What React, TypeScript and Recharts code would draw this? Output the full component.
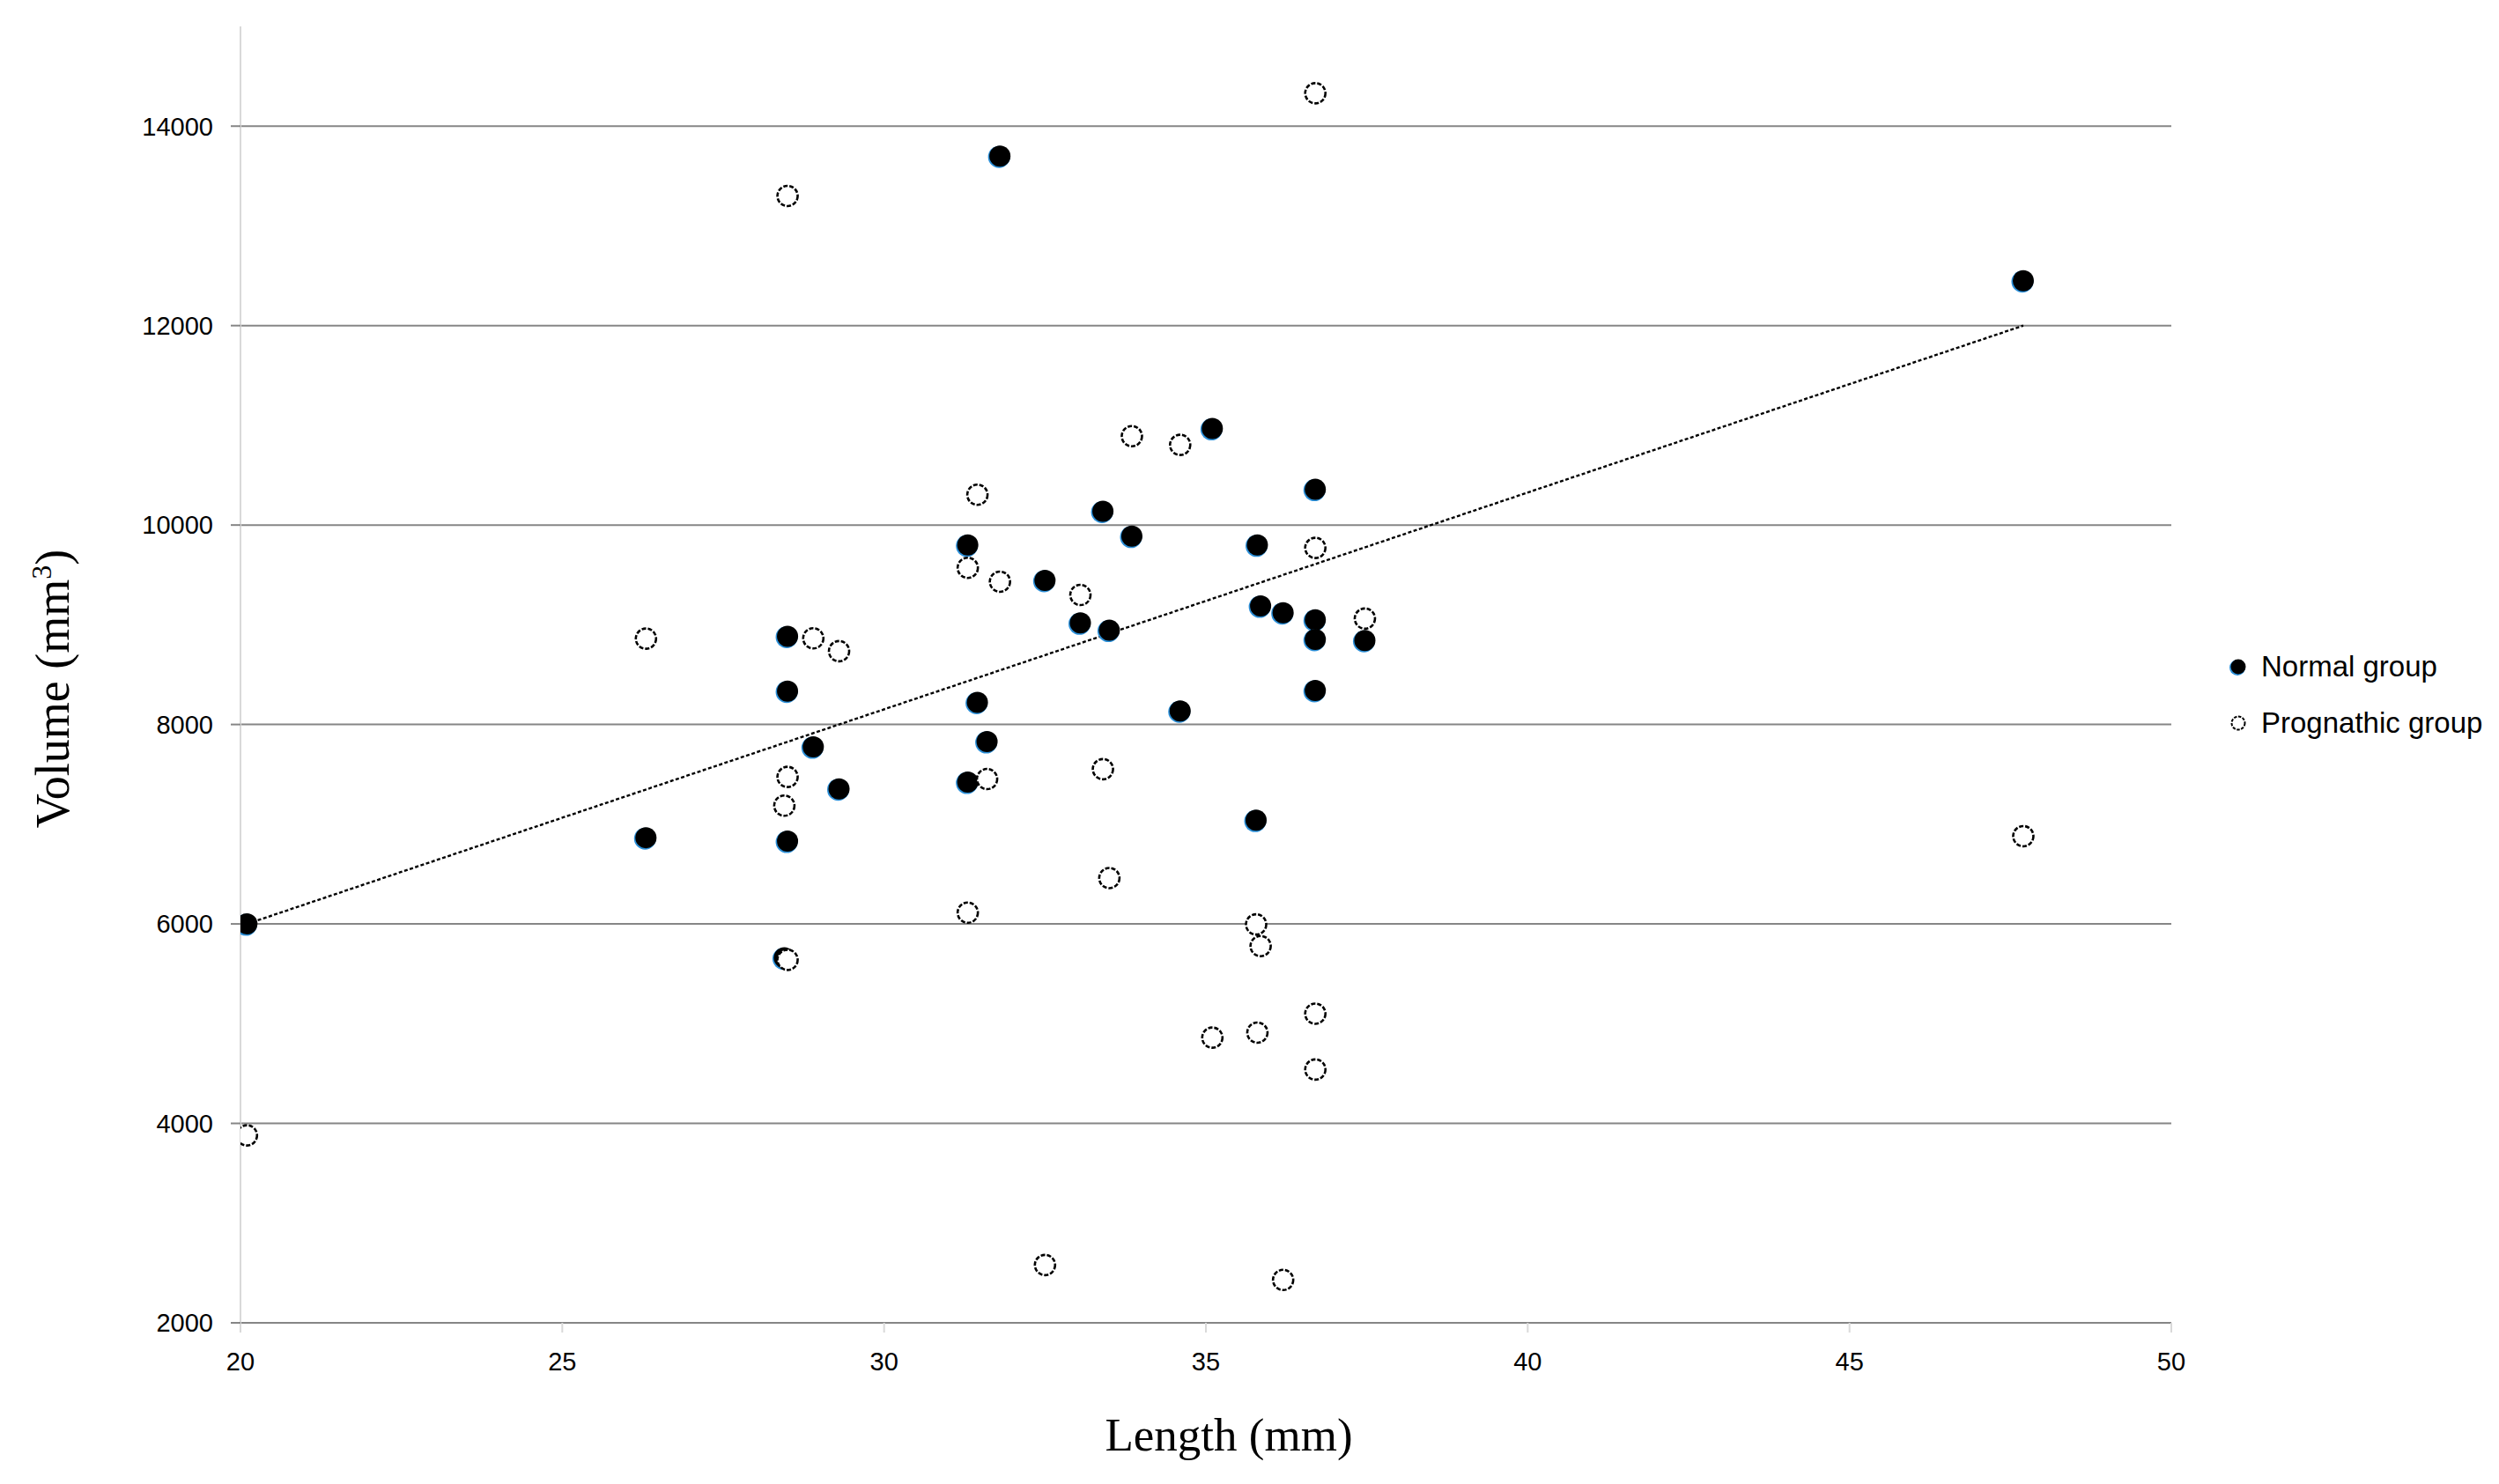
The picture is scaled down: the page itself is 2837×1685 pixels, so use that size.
import React from 'react';
import { ScatterChart, Scatter, XAxis, YAxis, CartesianGrid, Legend, Label } from 'recharts';

// Length (mm) and volume (mm^3) per subject
const normalLength = [20.1, 26.3, 28.5, 28.5, 28.5, 28.9, 29.3, 28.45, 31.3, 31.3, 31.45, 31.6, 31.8, 32.5, 33.05, 33.4, 33.5, 33.85, 34.6, 35.1, 35.8, 35.78, 35.85, 36.2, 36.7, 36.7, 36.7, 36.7, 37.47, 47.7];
const normalVolume = [6000, 6865, 8885, 8335, 6830, 7775, 7355, 5660, 9800, 7422, 8222, 7828, 13700, 9445, 9018, 10138, 8945, 9888, 8136, 10968, 9800, 7040, 9188, 9121, 10358, 9050, 8853, 8341, 8842, 12450];

const prognathicLength = [20.1, 26.3, 28.5, 28.5, 28.5, 28.9, 29.3, 28.45, 31.45, 31.3, 31.3, 31.8, 31.6, 32.5, 33.05, 33.4, 33.5, 33.85, 34.6, 35.1, 35.78, 35.8, 35.85, 36.2, 36.7, 36.7, 36.7, 36.7, 37.47, 47.7];
const prognathicVolume = [3880, 8861, 13300, 7474, 5640, 8864, 8735, 7186, 10304, 9571, 6113, 9432, 7453, 2580, 9299, 7552, 6460, 10891, 10804, 4860, 5995, 4910, 5778, 2430, 14330, 9771, 5100, 4540, 9062, 6880];

const trendLength = [20.1, 47.7];
const trendVolume = [6000, 12000];

const xTicks = [20, 25, 30, 35, 40, 45, 50];
const yTicks = [2000, 4000, 6000, 8000, 10000, 12000, 14000];

const seriesNames = ['Normal group', 'Prognathic group'];

const normalData = normalLength.map((x, i) => ({ x, y: normalVolume[i] }));
const prognathicData = prognathicLength.map((x, i) => ({ x, y: prognathicVolume[i] }));
const trendData = trendLength.map((x, i) => ({ x, y: trendVolume[i] }));

const GRID = '#868686';
const LIGHT = '#d9d9d9';
const SANS = '"Liberation Sans", Arial, sans-serif';
const SERIF = '"Liberation Serif", "Times New Roman", serif';

const FilledDot = (props: any) => {
  const { cx, cy } = props;
  if (cx == null || cy == null) return <g />;
  return (
    <g>
      <circle cx={cx - 1} cy={cy + 1} r={12.5} fill="#2b8fd8" />
      <circle cx={cx} cy={cy} r={12} fill="#000" />
    </g>
  );
};

const HollowDot = (props: any) => {
  const { cx, cy } = props;
  if (cx == null || cy == null) return <g />;
  return <circle cx={cx} cy={cy} r={11.5} fill="#fff" stroke="#000" strokeWidth={2.6} strokeDasharray="5 2" />;
};

const NoDot = () => <g />;

const renderLegend = () => (
  <svg width={317} height={130} style={{ display: 'block' }}>
    <circle cx={20} cy={33} r={9} fill="#2b8fd8" />
    <circle cx={21} cy={32} r={8.5} fill="#000" />
    <text x={47} y={43} fontFamily={SANS} fontSize={33} fill="#000">{seriesNames[0]}</text>
    <circle cx={21} cy={96} r={7.5} fill="#fff" stroke="#000" strokeWidth={2} strokeDasharray="3.5 1.5" />
    <text x={47} y={107} fontFamily={SANS} fontSize={33} fill="#000">{seriesNames[1]}</text>
  </svg>
);

const YTitle = () => (
  <text
    x={78}
    y={782}
    transform="rotate(-90, 78, 782)"
    textAnchor="middle"
    fontFamily={SERIF}
    fontSize={54}
    fill="#000"
  >
    Volume (mm<tspan dy={-20} fontSize={32}>3</tspan><tspan dy={20}>)</tspan>
  </text>
);

const XTitle = () => (
  <text x={1395} y={1647} textAnchor="middle" fontFamily={SERIF} fontSize={53} fill="#000">
    Length (mm)
  </text>
);

export default function App() {
  return (
    <div style={{ position: 'absolute', left: 0, top: 0, width: 2837, height: 1685, background: '#fff' }}>
      <ScatterChart width={2837} height={1685} margin={{ top: 30, right: 55, left: 0, bottom: 0 }}>
        <CartesianGrid vertical={false} stroke={GRID} strokeWidth={2} horizontalValues={yTicks} />
        <XAxis
          type="number"
          dataKey="x"
          domain={[20, 50]}
          ticks={xTicks}
          allowDataOverflow
          height={183}
          tickSize={11}
          tickMargin={22}
          axisLine={{ stroke: GRID, strokeWidth: 2 }}
          tickLine={{ stroke: LIGHT, strokeWidth: 2 }}
          tick={{ fill: '#000', fontSize: 29, fontFamily: SANS }}
        >
          <Label content={<XTitle />} />
        </XAxis>
        <YAxis
          type="number"
          dataKey="y"
          domain={[2000, 15000]}
          ticks={yTicks}
          allowDataOverflow
          width={273}
          tickSize={11}
          tickMargin={20}
          axisLine={{ stroke: LIGHT, strokeWidth: 2 }}
          tickLine={{ stroke: GRID, strokeWidth: 2 }}
          tick={{ fill: '#000', fontSize: 29, fontFamily: SANS }}
        >
          <Label content={<YTitle />} />
        </YAxis>
        <Legend
          layout="vertical"
          align="right"
          verticalAlign="middle"
          content={renderLegend}
          wrapperStyle={{ position: 'absolute', left: 2520, top: 725, width: 317, height: 130 }}
        />
        <Scatter
          name="trend"
          data={trendData}
          line={{ stroke: '#000', strokeWidth: 2.4, strokeDasharray: '4 2.5' }}
          shape={NoDot}
          legendType="none"
          isAnimationActive={false}
        />
        <Scatter name={seriesNames[0]} data={normalData} shape={FilledDot} isAnimationActive={false} />
        <Scatter name={seriesNames[1]} data={prognathicData} shape={HollowDot} isAnimationActive={false} />
      </ScatterChart>
    </div>
  );
}
